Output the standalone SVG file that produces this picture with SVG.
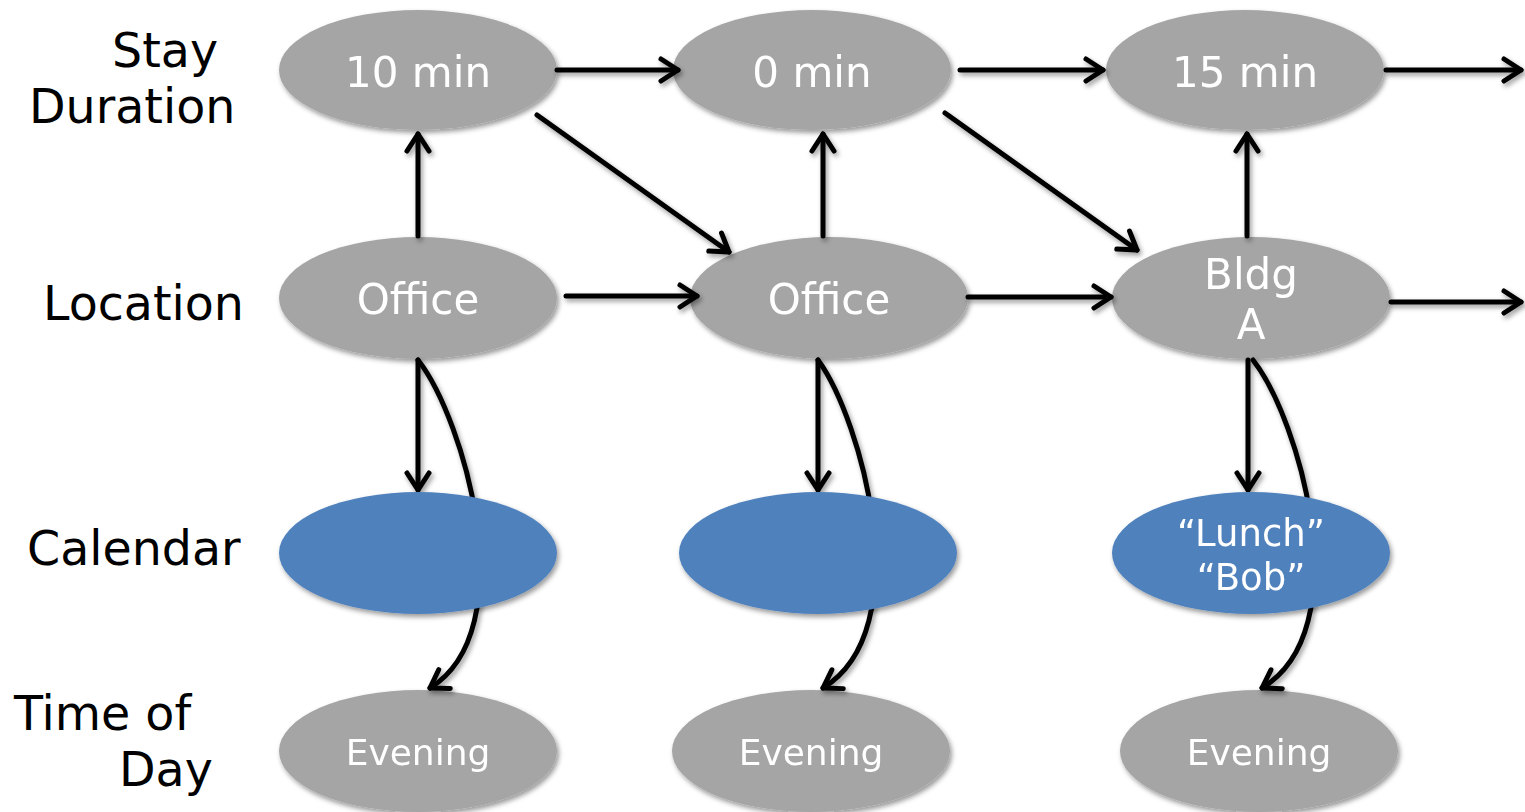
<svg xmlns="http://www.w3.org/2000/svg" width="1525" height="812" viewBox="0 0 1525 812">
  <style>
    .label { font-family: Verdana, "DejaVu Sans", sans-serif; font-size: 47.5px; fill: #000; }
    .txt { font-family: Verdana, "DejaVu Sans", sans-serif; fill: #fff; text-anchor: middle; }
    .grey { fill: #A5A5A5; }
    .blue { fill: #4F81BD; }
    .edge { fill: none; stroke: #000; stroke-width: 5; stroke-linecap: round; stroke-linejoin: round; }
  </style>
  <defs>
    <filter id="shadow" x="-20%" y="-20%" width="140%" height="150%">
      <feDropShadow dx="2" dy="3" stdDeviation="2.5" flood-color="#000" flood-opacity="0.4"/>
    </filter>
    <marker id="arrow" markerUnits="userSpaceOnUse" orient="auto" overflow="visible" markerWidth="1" markerHeight="1" refX="0" refY="0">
      <path d="M-17,-11 L0,0 L-17,11" fill="none" stroke="#000" stroke-width="5" stroke-linecap="round" stroke-linejoin="round"/>
    </marker>
  </defs>

  <rect width="1525" height="812" fill="#fff"/>

  <!-- row labels -->
  <g id="row-labels">
    <text class="label" x="112" y="67">Stay</text>
    <text class="label" x="29" y="123">Duration</text>
    <text class="label" x="43" y="320">Location</text>
    <text class="label" x="27" y="565">Calendar</text>
    <text class="label" x="14" y="730">Time of</text>
    <text class="label" x="119" y="786">Day</text>
  </g>

  <!-- stay duration row -->
  <g id="stay1" filter="url(#shadow)">
    <ellipse class="grey" cx="418" cy="70" rx="139" ry="60"/>
    <text class="txt" x="418" y="87" font-size="42">10 min</text>
  </g>
  <g id="stay2" filter="url(#shadow)">
    <ellipse class="grey" cx="812" cy="70" rx="139" ry="60"/>
    <text class="txt" x="812" y="87" font-size="42">0 min</text>
  </g>
  <g id="stay3" filter="url(#shadow)">
    <ellipse class="grey" cx="1245" cy="70" rx="139" ry="60"/>
    <text class="txt" x="1245" y="87" font-size="42">15 min</text>
  </g>

  <!-- location row -->
  <g id="loc1" filter="url(#shadow)">
    <ellipse class="grey" cx="418" cy="298" rx="139" ry="61"/>
    <text class="txt" x="418" y="314" font-size="42">Office</text>
  </g>
  <g id="loc2" filter="url(#shadow)">
    <ellipse class="grey" cx="829" cy="298" rx="139" ry="61"/>
    <text class="txt" x="829" y="314" font-size="42">Office</text>
  </g>
  <g id="loc3" filter="url(#shadow)">
    <ellipse class="grey" cx="1251" cy="298" rx="139" ry="61"/>
    <text class="txt" x="1251" y="289" font-size="42">Bldg</text>
    <text class="txt" x="1251" y="339" font-size="42">A</text>
  </g>

  <!-- time of day row -->
  <g id="time1" filter="url(#shadow)">
    <ellipse class="grey" cx="418" cy="751" rx="139" ry="61"/>
    <text class="txt" x="418" y="765" font-size="36">Evening</text>
  </g>
  <g id="time2" filter="url(#shadow)">
    <ellipse class="grey" cx="811" cy="751" rx="139" ry="61"/>
    <text class="txt" x="811" y="765" font-size="36">Evening</text>
  </g>
  <g id="time3" filter="url(#shadow)">
    <ellipse class="grey" cx="1259" cy="751" rx="139" ry="61"/>
    <text class="txt" x="1259" y="765" font-size="36">Evening</text>
  </g>

  <!-- connectors -->
  <g id="connectors" filter="url(#shadow)">
    <!-- stay duration chain -->
    <line class="edge" x1="557" y1="70" x2="678" y2="70" marker-end="url(#arrow)"/>
    <line class="edge" x1="960" y1="70" x2="1103" y2="70" marker-end="url(#arrow)"/>
    <line class="edge" x1="1386" y1="70" x2="1521" y2="70" marker-end="url(#arrow)"/>
    <!-- location chain -->
    <line class="edge" x1="566" y1="296" x2="697" y2="296" marker-end="url(#arrow)"/>
    <line class="edge" x1="968" y1="297" x2="1111" y2="297" marker-end="url(#arrow)"/>
    <line class="edge" x1="1391" y1="302" x2="1521" y2="302" marker-end="url(#arrow)"/>
    <!-- stay duration to next location -->
    <line class="edge" x1="537" y1="115" x2="729" y2="252" marker-end="url(#arrow)"/>
    <line class="edge" x1="945" y1="113" x2="1137" y2="250" marker-end="url(#arrow)"/>
    <!-- location to stay duration -->
    <line class="edge" x1="418" y1="236" x2="418" y2="134" marker-end="url(#arrow)"/>
    <line class="edge" x1="823" y1="236" x2="823" y2="134" marker-end="url(#arrow)"/>
    <line class="edge" x1="1247" y1="236" x2="1247" y2="134" marker-end="url(#arrow)"/>
    <!-- location to calendar -->
    <line class="edge" x1="418" y1="360" x2="418" y2="490" marker-end="url(#arrow)"/>
    <line class="edge" x1="818" y1="360" x2="818" y2="490" marker-end="url(#arrow)"/>
    <line class="edge" x1="1248" y1="360" x2="1248" y2="490" marker-end="url(#arrow)"/>
    <!-- location to time of day, passing behind calendar -->
    <path class="edge" d="M418,360 C465,420 524,630 430,688" marker-end="url(#arrow)"/>
    <path class="edge" d="M818,360 C862,420 919,630 823,688" marker-end="url(#arrow)"/>
    <path class="edge" d="M1253,360 C1300,420 1359,630 1262,688" marker-end="url(#arrow)"/>
  </g>

  <!-- calendar row -->
  <g id="cal1" filter="url(#shadow)">
    <ellipse class="blue" cx="418" cy="553" rx="139" ry="61"/>
  </g>
  <g id="cal2" filter="url(#shadow)">
    <ellipse class="blue" cx="818" cy="553" rx="139" ry="61"/>
  </g>
  <g id="cal3" filter="url(#shadow)">
    <ellipse class="blue" cx="1251" cy="553" rx="139" ry="61"/>
    <text class="txt" x="1251" y="546" font-size="37">“Lunch”</text>
    <text class="txt" x="1251" y="590" font-size="37">“Bob”</text>
  </g>
</svg>
